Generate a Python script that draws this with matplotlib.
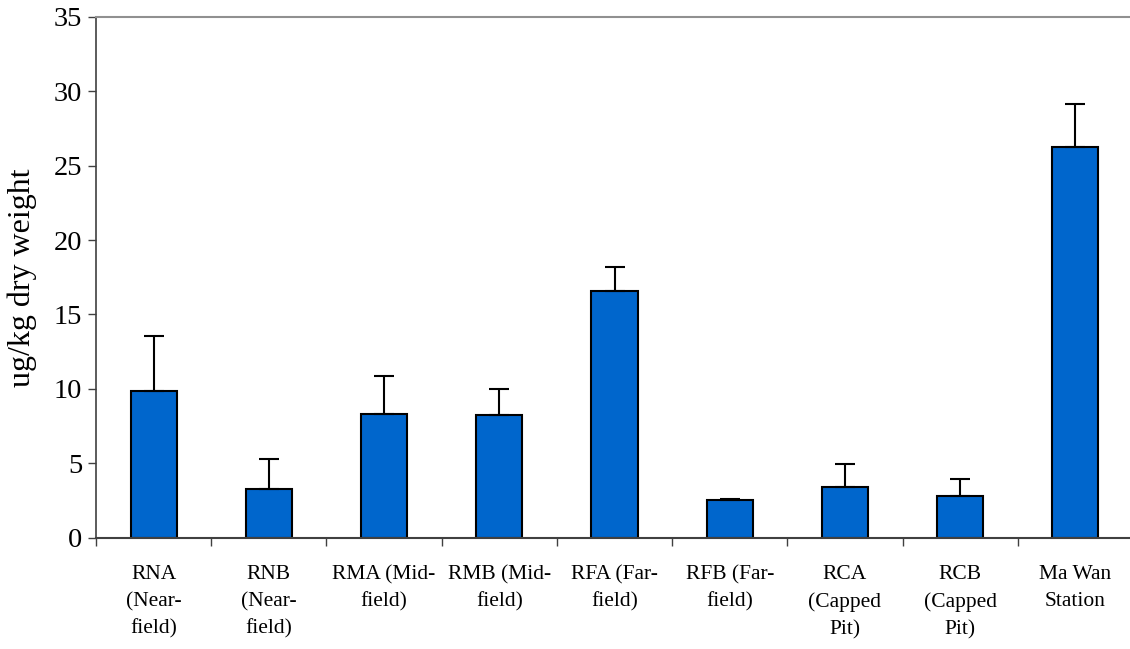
import numpy as np
import matplotlib
matplotlib.use('Agg')
import matplotlib.pyplot as plt
from matplotlib.ticker import FixedLocator

# sediment concentration by station, mean and upper error
stations = ['RNA\n(Near-\nfield)', 'RNB\n(Near-\nfield)', 'RMA (Mid-\nfield)', 'RMB (Mid-\nfield)',
            'RFA (Far-\nfield)', 'RFB (Far-\nfield)', 'RCA\n(Capped\nPit)', 'RCB\n(Capped\nPit)',
            'Ma Wan\nStation']
means = [9.85, 3.26, 8.33, 8.22, 16.56, 2.54, 3.40, 2.77, 26.28]
errors = [3.70, 2.04, 2.53, 1.77, 1.65, 0.02, 1.52, 1.16, 2.89]
y_ticks = [0, 5, 10, 15, 20, 25, 30, 35]

plt.rcParams['font.family'] = ['Liberation Serif', 'DejaVu Serif']

fig = plt.figure(figsize=(11.3, 6.49), dpi=100)
ax = fig.add_axes([96 / 1130, 1 - 537.5 / 649, 1037 / 1130, (537.5 - 17) / 649])

x = np.arange(len(stations))
ax.bar(x, means, width=0.4, color='#0066CC', edgecolor='black', linewidth=1.5,
       yerr=[np.zeros(len(errors)), errors], capsize=7,
       error_kw={'elinewidth': 1.5, 'capthick': 1.5, 'ecolor': 'black'}, zorder=2)

ax.set_xlim(-0.5, len(stations) - 0.5)
ax.set_ylim(0, 35)
ax.set_yticks(y_ticks)
ax.tick_params(axis='y', labelsize=20.5, length=6, width=1, color='#404040', pad=4)

ax.set_xticks(x)
ax.set_xticklabels(stations, fontsize=15.5, linespacing=1.55)
ax.tick_params(axis='x', which='major', length=0, pad=20)
ax.xaxis.set_minor_locator(FixedLocator(np.arange(-0.5, len(stations), 1.0)))
ax.tick_params(axis='x', which='minor', length=6, width=1, color='#404040', direction='out')

ax.set_ylabel('ug/kg dry weight', fontsize=23, labelpad=12)

ax.spines['left'].set_color('#404040')
ax.spines['bottom'].set_color('#404040')
ax.spines['left'].set_linewidth(1.2)
ax.spines['bottom'].set_linewidth(1.5)
ax.spines['top'].set_color('#909090')
ax.spines['top'].set_linewidth(1.5)
ax.spines['right'].set_visible(False)

fig.savefig('out.png', dpi=100)
plt.close(fig)
